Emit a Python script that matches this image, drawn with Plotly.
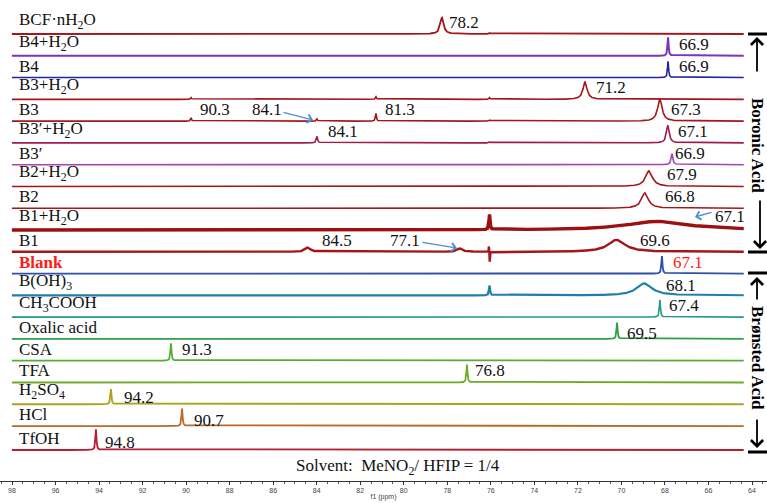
import numpy as np
import plotly.graph_objects as go

# ---------------- data ----------------
row_names = ["BCF·nH<sub>2</sub>O", "B4+H<sub>2</sub>O", "B4", "B3+H<sub>2</sub>O", "B3",
             "B3′+H<sub>2</sub>O", "B3′", "B2+H<sub>2</sub>O", "B2", "B1+H<sub>2</sub>O", "B1",
             "Blank", "B(OH)<sub>3</sub>", "CH<sub>3</sub>COOH", "Oxalic acid", "CSA", "TFA",
             "H<sub>2</sub>SO<sub>4</sub>", "HCl", "TfOH"]

# peak centre (ppm), relative height, half width (ppm) for every spectrum
peak_centers = [[78.02, 75.70], [66.99], [66.99], [71.04, 90.26, 81.24, 75.70],
                [67.39, 90.26, 84.12, 81.24, 75.70], [67.00, 84.12, 75.70], [66.80],
                [67.92], [68.12], [67.50, 75.70], [69.50, 84.56, 77.14, 75.73, 75.69],
                [67.29], [68.15, 75.70], [67.39], [69.48], [91.24], [76.80], [94.17],
                [90.70], [94.90]]
peak_heights = [[0.75, 0.05], [0.85], [0.75], [0.80, 0.08, 0.12, 0.08],
                [1.00, 0.15, 0.10, 0.35, 0.05], [0.80, 0.30, 0.05], [0.50],
                [0.72], [0.70], [0.40, 0.70], [0.55, 0.20, 0.15, 0.30, -0.50],
                [0.80], [0.55, 0.45], [0.80], [0.75], [0.80], [0.82], [0.70],
                [0.80], [0.95]]
peak_widths = [[0.10, 0.03], [0.03], [0.03], [0.12, 0.03, 0.03, 0.03],
               [0.13, 0.03, 0.03, 0.03, 0.03], [0.08, 0.04, 0.03], [0.05],
               [0.20], [0.20], [1.80, 0.03], [0.50, 0.15, 0.15, 0.015, 0.015],
               [0.03], [0.45, 0.03], [0.03], [0.03], [0.03], [0.03], [0.03],
               [0.03], [0.03]]

# shift labels
lab_row = [0, 1, 2, 3, 4, 4, 4, 4, 5, 5, 6, 7, 8, 9, 10, 10, 10, 11, 12, 13, 14, 15, 16, 17, 18, 19]
lab_text = ["78.2", "66.9", "66.9", "71.2", "90.3", "84.1", "81.3", "67.3", "84.1", "67.1",
            "66.9", "67.9", "66.8", "67.1", "84.5", "77.1", "69.6", "67.1", "68.1", "67.4",
            "69.5", "91.3", "76.8", "94.2", "90.7", "94.8"]

spec_range = [99.0, 63.3]
tick_vals = [98, 96, 94, 92, 90, 88, 86, 84, 82, 80, 78, 76, 74, 72, 70, 68, 66, 64]

# ---------------- styles / layout ----------------
colors = ["#a3161a", "#7b35b5", "#2323a0", "#a3161a", "#a3161a", "#9e1a50", "#a745b0",
          "#a3161a", "#a3161a", "#9b1010", "#a3161a", "#2f4fa8", "#1f7fa6", "#219a8a",
          "#2e9e48", "#56ac3a", "#6faa24", "#b0a020", "#b86a26", "#b52030"]
widths = [1.8, 2.0, 1.6, 1.6, 1.6, 1.6, 1.6, 1.6, 1.6, 3.4, 2.4, 1.8, 2.2, 1.6, 1.8,
          1.8, 1.8, 1.8, 1.8, 1.8]
offsets = [i for i in range(19)] + [19.1]
lab_left = [77.78, 66.56, 66.56, 70.6, 89.92, 87.39, 80.9, 66.95, 83.68, 66.6, 66.75,
            67.14, 67.24, 64.8, 83.97, 80.65, 68.46, 66.85, 67.19, 67.05, 69.09, 90.8,
            76.51, 93.63, 90.21, 94.56]
lab_shift = [0, 0, 0, 0, 0, 0, 0, 0, 0, 0, 0, 0, 0, 2, 0, 0, 0, 0, -2, 0, -6, 0, 0, -5, -6, -4]

W, H = 767, 503
SERIF = "Liberation Serif, Times New Roman, serif"


def px(xp):
    return xp / W


def py(yp):
    return 1 - yp / H


xgrid = np.round(np.arange(spec_range[1], spec_range[0] + 1e-9, 0.01), 2)

fig = go.Figure()
for i, name in enumerate(row_names):
    y = np.zeros_like(xgrid)
    for c, h, w in zip(peak_centers[i], peak_heights[i], peak_widths[i]):
        y += h * w ** 2 / ((xgrid - c) ** 2 + w ** 2)
    fig.add_trace(go.Scatter(x=xgrid, y=y - offsets[i], mode="lines",
                             line=dict(color=colors[i], width=widths[i]),
                             showlegend=False, hoverinfo="skip"))

# invisible trace carrying the ppm scale axis
fig.add_trace(go.Scatter(x=[tick_vals[0], tick_vals[-1]], y=[None, None], xaxis="x2",
                         mode="lines", showlegend=False, hoverinfo="skip"))

ann = []
for i, name in enumerate(row_names):
    blank = name == "Blank"
    ann.append(dict(x=px(17), xref="paper", y=-offsets[i], yref="y",
                    text=("<b>%s</b>" % name) if blank else name,
                    showarrow=False, xanchor="left", yanchor="bottom",
                    font=dict(family=SERIF, size=17, color="#ff1a1a" if blank else "#111")))

for r, t, xl, ys in zip(lab_row, lab_text, lab_left, lab_shift):
    ann.append(dict(x=xl, xref="x", y=-offsets[r], yref="y", text=t, showarrow=False,
                    xanchor="left", yanchor="bottom", yshift=ys,
                    font=dict(family=SERIF, size=17, color="#ff1a1a" if r == 11 else "#111")))

# blue pointer arrows
for hx, hy, ax, ay in [(84.31, -3.95, -31, -8), (65.68, -8.40, 18, -5), (77.29, -9.83, -36, -6)]:
    ann.append(dict(x=hx, y=hy, xref="x", yref="y", ax=ax, ay=ay, text="", showarrow=True,
                    arrowhead=4, arrowsize=1.2, arrowwidth=1.4, arrowcolor="#4f8fd0"))

# right-hand group brackets
shapes = []
for yp in [34, 252, 273, 452]:
    shapes.append(dict(type="line", xref="paper", yref="paper", x0=px(748), x1=1.0,
                       y0=py(yp), y1=py(yp), line=dict(color="black", width=3)))
for hx, hy, dy in [(757, 37, 36), (760, 249, -50), (757, 277, 24), (757, 448, -30)]:
    ann.append(dict(x=px(hx), y=py(hy), xref="paper", yref="paper", ax=0, ay=dy, text="",
                    showarrow=True, arrowhead=4, arrowsize=1.3, arrowwidth=1.8, arrowcolor="black"))
ann.append(dict(x=px(758), y=py(145), xref="paper", yref="paper", text="<b>Boronic Acid</b>",
                textangle=90, showarrow=False, xanchor="center", yanchor="middle",
                font=dict(family=SERIF, size=17, color="black")))
ann.append(dict(x=px(758), y=py(358), xref="paper", yref="paper", text="<b>Brønsted Acid</b>",
                textangle=90, showarrow=False, xanchor="center", yanchor="middle",
                font=dict(family=SERIF, size=17, color="black")))

ann.append(dict(x=px(398), y=py(467), xref="paper", yref="paper",
                text="Solvent:  MeNO<sub>2</sub>/ HFIP = 1/4", showarrow=False,
                xanchor="center", yanchor="middle",
                font=dict(family=SERIF, size=17, color="#111")))

fig.update_layout(
    width=W, height=H, margin=dict(l=0, r=0, t=0, b=0),
    paper_bgcolor="white", plot_bgcolor="white",
    xaxis=dict(range=[94.8 + 98 / 20.5, 94.8 - (W - 98) / 20.5], visible=False,
               domain=[0, 1]),
    xaxis2=dict(range=[98 + 12 / 21.76, 64 - 15 / 21.76], overlaying="x", anchor="free",
                position=py(481), side="bottom", showline=True, linecolor="#333",
                linewidth=1, ticks="outside", ticklen=3, tickcolor="#333",
                tickvals=tick_vals, showgrid=False, zeroline=False,
                minor=dict(dtick=0.5, ticklen=2, tickcolor="#555", ticks="outside"),
                tickfont=dict(family="Liberation Sans, Arial", size=7, color="#444"),
                title=dict(text="f1 (ppm)", standoff=0,
                           font=dict(family="Liberation Sans, Arial", size=7, color="#444"))),
    yaxis=dict(range=[-(H - 34) / 21.78, 34 / 21.78], visible=False),
    annotations=ann, shapes=shapes,
)

fig.write_html("out.html", config={"displayModeBar": False},
               post_script="document.body.style.margin='0px';")
